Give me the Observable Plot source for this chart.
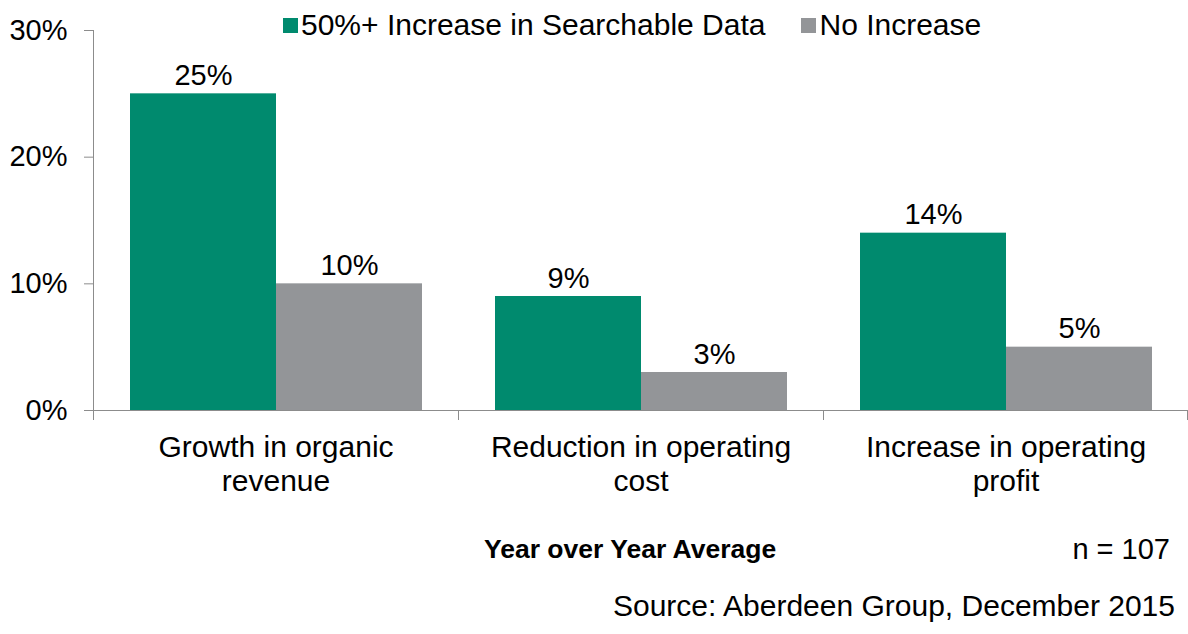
<!DOCTYPE html>
<html><head><meta charset="utf-8">
<script src="https://cdn.jsdelivr.net/npm/d3@7"></script>
<script src="https://cdn.jsdelivr.net/npm/@observablehq/plot@0.6"></script>
<style>
body{margin:0;background:#fff;font-family:"Liberation Sans",Arial,sans-serif;color:#000;}
#wrap{position:relative;width:1188px;height:634px;overflow:hidden;}
#chart{position:absolute;left:0;top:0;}
#legend{position:absolute;top:8px;left:283px;display:flex;align-items:center;font-size:30px;line-height:34px;white-space:nowrap;}
.item{display:flex;align-items:center;}
.sw{width:15px;height:15px;display:inline-block;margin-right:3px;}
.foot{position:absolute;white-space:nowrap;line-height:30px;}
</style></head>
<body>
<div id="wrap">
  <div id="chart"></div>
  <div id="legend"></div>
  <div class="foot" id="avg" style="left:484px;top:534px;font-size:26.5px;font-weight:bold;"></div>
  <div class="foot" id="n" style="right:18px;top:534px;font-size:29px;"></div>
  <div class="foot" id="src" style="right:13px;top:591px;font-size:30px;"></div>
</div>
<script>
const categories = ["Growth in organic revenue", "Reduction in operating cost", "Increase in operating profit"];
const categoryLabels = ["Growth in organic\nrevenue", "Reduction in operating\ncost", "Increase in operating\nprofit"];
const series = ["50%+ Increase in Searchable Data", "No Increase"];
const increaseValues = [25, 9, 14];
const noIncreaseValues = [10, 3, 5];
const yTicks = [0, 10, 20, 30];
const colors = ["#008A6E", "#939598"];
const axisTitle = "Year over Year Average";
const sampleNote = "n = 107";
const sourceNote = "Source: Aberdeen Group, December 2015";

const rows = categories.flatMap((c, i) => [
  {category: c, series: series[0], value: increaseValues[i]},
  {category: c, series: series[1], value: noIncreaseValues[i]}
]);

const plot = Plot.plot({
  width: 1188,
  height: 500,
  marginTop: 30,
  marginBottom: 90,
  marginLeft: 92,
  marginRight: 0,
  style: {fontFamily: "Liberation Sans, Arial, sans-serif", fontSize: "29px", color: "#000", background: "#fff"},
  fx: {domain: categories, padding: 0, label: null},
  x: {domain: series, paddingInner: 0, paddingOuter: 0.25, axis: null},
  y: {domain: [0, 30], label: null},
  color: {domain: series, range: colors},
  marks: [
    Plot.axisY({ticks: yTicks, tickSize: 9, tickPadding: 17, tickFormat: d => d + "%", label: null, stroke: "#8c8c8c", fill: "#000", fontSize: 29}),
    Plot.axisFx({anchor: "bottom", tickSize: 0, tickPadding: 22, label: null, fontSize: 30, lineHeight: 1.15,
      tickFormat: d => categoryLabels[categories.indexOf(d)], fill: "#000"}),
    Plot.barY(rows, {fx: "category", x: "series", y: "value", fill: "series"}),
    Plot.ruleY([0], {stroke: "#8c8c8c"}),
    Plot.text(rows, {fx: "category", x: "series", y: "value", text: d => d.value + "%", lineAnchor: "bottom", dy: -9, fontSize: 29, fill: "#000"})
  ]
});
document.getElementById("chart").appendChild(plot);

// axis line and category boundary ticks, placed from the plot's own scales
const svg = d3.select(plot.tagName.toLowerCase() === "svg" ? plot : plot.querySelector("svg"));
const fxS = plot.scale("fx"), yS = plot.scale("y");
const y0 = yS.apply(0), yTop = yS.apply(yTicks[yTicks.length - 1]);
const left = fxS.apply(categories[0]);
svg.append("line").attr("x1", left).attr("x2", left).attr("y1", yTop).attr("y2", y0)
  .attr("stroke", "#8c8c8c").attr("shape-rendering", "crispEdges");
const bounds = categories.map(c => fxS.apply(c)).concat([fxS.apply(categories[categories.length - 1]) + fxS.bandwidth - 1]);
bounds.forEach(b => svg.append("line").attr("x1", b).attr("x2", b).attr("y1", y0).attr("y2", y0 + 10)
  .attr("stroke", "#8c8c8c").attr("shape-rendering", "crispEdges"));

// legend
const legend = d3.select("#legend");
series.forEach((s, i) => {
  const it = legend.append("div").attr("class", "item").style("margin-right", i === 0 ? "36px" : "0");
  it.append("span").attr("class", "sw").style("background", colors[i]);
  it.append("span").text(s);
});
document.getElementById("avg").textContent = axisTitle;
document.getElementById("n").textContent = sampleNote;
document.getElementById("src").textContent = sourceNote;
</script>
</body></html>
